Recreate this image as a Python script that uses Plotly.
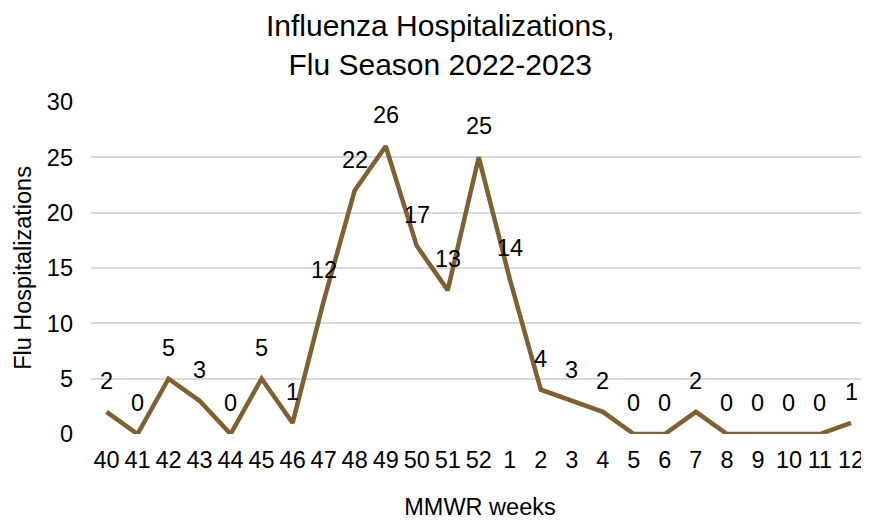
import plotly.graph_objects as go

weeks = ["40", "41", "42", "43", "44", "45", "46", "47", "48", "49", "50", "51", "52",
         "1", "2", "3", "4", "5", "6", "7", "8", "9", "10", "11", "12"]
hospitalizations = [2, 0, 5, 3, 0, 5, 1, 12, 22, 26, 17, 13, 25,
                    14, 4, 3, 2, 0, 0, 2, 0, 0, 0, 0, 1]
y_ticks = [0, 5, 10, 15, 20, 25, 30]

FONT = "Liberation Sans, Arial, sans-serif"
LINE_COLOR = "#7F6033"
TICK_SIZE = 23.5

x_idx = list(range(len(weeks)))

fig = go.Figure()
fig.add_trace(go.Scatter(
    x=x_idx, y=hospitalizations, mode="lines",
    line=dict(color=LINE_COLOR, width=4.5),
    hoverinfo="skip", showlegend=False,
))

annotations = [
    dict(x=i, y=v, text=str(v), showarrow=False, yshift=31,
         font=dict(family=FONT, size=TICK_SIZE, color="#000000"), xref="x", yref="y")
    for i, v in zip(x_idx, hospitalizations)
]

# The page adds an 8px body margin, so the figure is sized to fit the rest.
fig.update_layout(
    width=861, height=512,
    margin=dict(l=83, r=0, t=94, b=86, autoexpand=False),
    paper_bgcolor="white", plot_bgcolor="white",
    title=dict(text="Influenza Hospitalizations,<br>Flu Season 2022-2023",
               x=0.502, xanchor="center", y=0.945, yanchor="middle",
               font=dict(family=FONT, size=30, color="#000000")),
    font=dict(family=FONT, size=TICK_SIZE, color="#000000"),
    annotations=annotations,
    xaxis=dict(
        range=[-0.5, 24.58], tickmode="array", tickvals=x_idx, ticktext=weeks,
        showgrid=False, zeroline=False, showline=False, ticks="",
        ticklabelstandoff=9, ticklabeloverflow="allow",
        tickfont=dict(family=FONT, size=TICK_SIZE, color="#000000"),
        title=dict(text="MMWR weeks", standoff=30,
                   font=dict(family=FONT, size=23.5, color="#000000")),
        fixedrange=True,
    ),
    yaxis=dict(
        range=[0, 30], tickmode="array", tickvals=y_ticks,
        showgrid=True, gridcolor="#D9D9D9", gridwidth=1.5,
        zeroline=False, showline=False, ticks="",
        ticklabelstandoff=17,
        tickfont=dict(family=FONT, size=TICK_SIZE, color="#000000"),
        title=dict(text="Flu Hospitalizations", standoff=8,
                   font=dict(family=FONT, size=23.5, color="#000000")),
        fixedrange=True,
    ),
)

fig.write_html("out.html")
